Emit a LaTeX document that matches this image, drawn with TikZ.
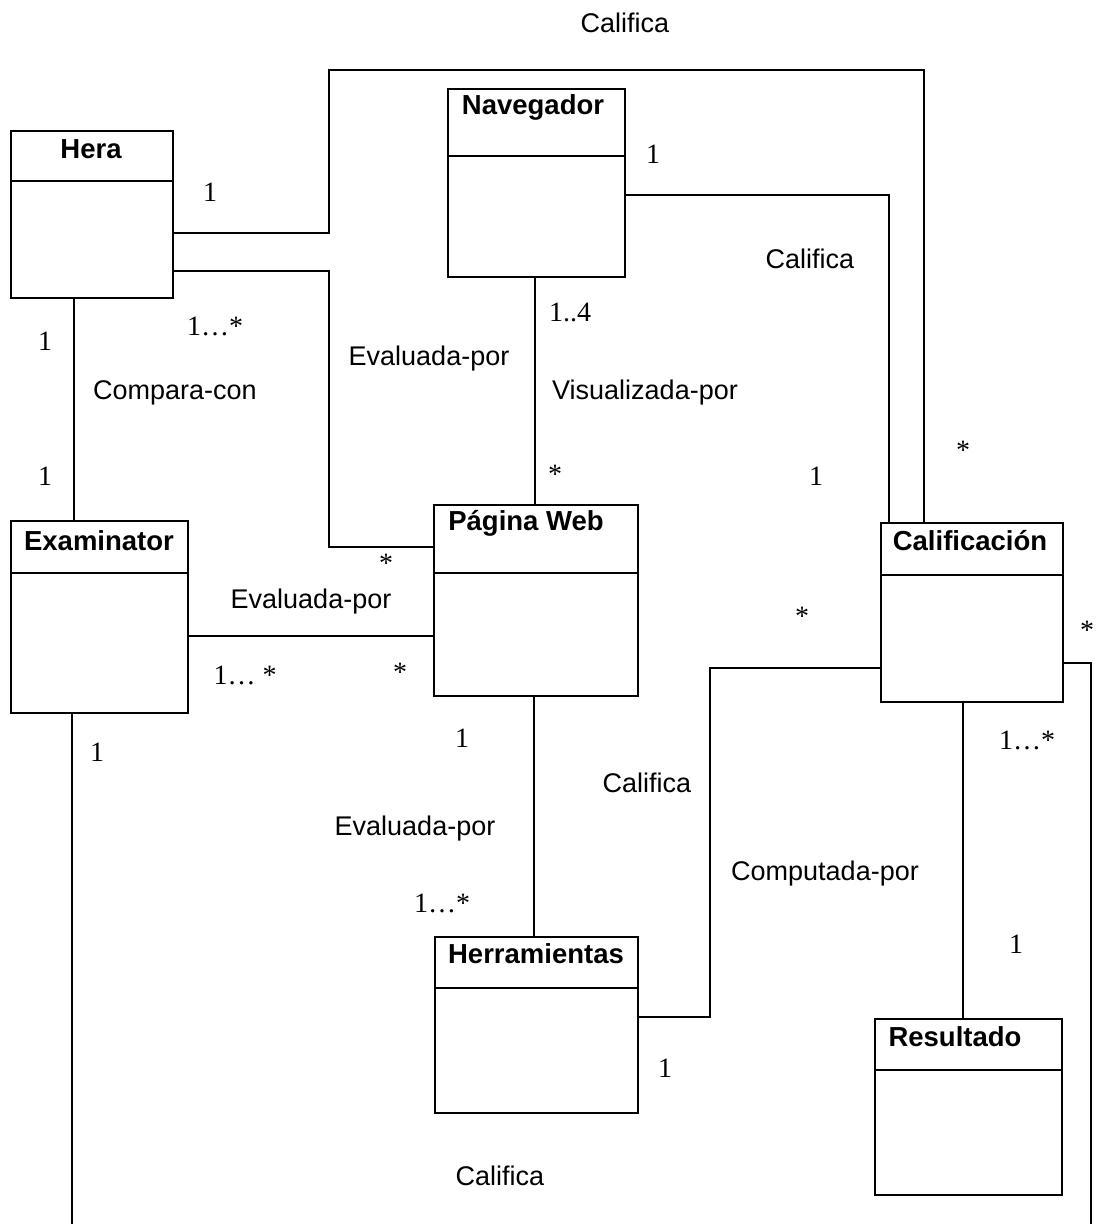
\documentclass[tikz,border=0pt]{standalone}
\usepackage{fontspec}
\setmainfont{Liberation Serif}
\setsansfont{Liberation Sans}
\begin{document}
\begin{tikzpicture}[x=1pt,y=-1pt,
  classbox/.style={draw,line width=1.8pt,rectangle,outer sep=0pt,inner sep=0pt},
  divider/.style={line width=1.8pt},
  title/.style={font=\sffamily\bfseries\fontsize{27.5}{32}\selectfont,inner sep=0pt},
  link/.style={line width=2.8pt},
  rolename/.style={font=\sffamily\fontsize{27}{32}\selectfont,inner sep=0pt},
  mult/.style={font=\rmfamily\fontsize{28}{32}\selectfont,inner sep=0pt}]
\useasboundingbox (0,0) rectangle (1099,1224);

% classes
\node[classbox,minimum width=162pt,minimum height=167pt] (hera) at (92,214.5) {};
\node[classbox,minimum width=177pt,minimum height=188pt] (nav) at (536.5,183) {};
\node[classbox,minimum width=204pt,minimum height=191pt] (web) at (536,600.5) {};
\node[classbox,minimum width=177pt,minimum height=192pt] (exam) at (99.5,617) {};
\node[classbox,minimum width=182pt,minimum height=179pt] (calif) at (972,612.5) {};
\node[classbox,minimum width=203pt,minimum height=176pt] (herr) at (536.5,1025) {};
\node[classbox,minimum width=187pt,minimum height=176pt] (res) at (968.5,1107) {};

% compartment separators
\draw[divider] (hera.west |- 0,181) -- (hera.east |- 0,181);
\draw[divider] (nav.west |- 0,156) -- (nav.east |- 0,156);
\draw[divider] (web.west |- 0,573) -- (web.east |- 0,573);
\draw[divider] (exam.west |- 0,573) -- (exam.east |- 0,573);
\draw[divider] (calif.west |- 0,575) -- (calif.east |- 0,575);
\draw[divider] (herr.west |- 0,988) -- (herr.east |- 0,988);
\draw[divider] (res.west |- 0,1070) -- (res.east |- 0,1070);

% class names
\node[title] (thera) at (91,149) {Hera};
\node[title] (tnav) at (533,107) {Navegador};
\node[title] (tweb) at (526,523) {Página Web};
\node[title] (texam) at (99,541) {Examinator};
\node[title] (tcalif) at (970,541) {Calificación};
\node[title] (therr) at (536,954) {Herramientas};
\node[title] (tres) at (955,1037) {Resultado};

% free ends leaving the drawing area
\coordinate (endL) at (72,1224);
\coordinate (endR) at (1091,1224);

% associations
\draw[link] (hera.east |- 0,233) -- (329,233) -- (329,70) -- (924,70) -- (calif.north -| 924,0);
\draw[link] (hera.east |- 0,271) -- (329,271) -- (329,547) -- (web.west |- 0,547);
\draw[link] (hera.south -| 74,0) -- (exam.north -| 74,0);
\draw[link] (nav.east |- 0,195) -- (889,195) -- (calif.north -| 889,0);
\draw[link] (nav.south -| 535,0) -- (web.north -| 535,0);
\draw[link] (exam.east |- 0,636) -- (web.west |- 0,636);
\draw[link] (web.south -| 534,0) -- (herr.north -| 534,0);
\draw[link] (herr.east |- 0,1017) -- (710,1017) -- (710,668) -- (calif.west |- 0,668);
\draw[link] (calif.south -| 963,0) -- (res.north -| 963,0);
\draw[link] (calif.east |- 0,663) -- (1091,663) -- (endR);
\draw[link] (exam.south -| 72,0) -- (endL);

% association names
\node[rolename] (r1) at (625,23) {Califica};
\node[rolename] (r2) at (810,259) {Califica};
\node[rolename] (r3) at (429,359) {Evaluada-por};
\node[rolename] (r4) at (175,393) {Compara-con};
\node[rolename] (r5) at (645,393) {Visualizada-por};
\node[rolename] (r6) at (311,602) {Evaluada-por};
\node[rolename] (r7) at (647,783) {Califica};
\node[rolename] (r8) at (415,829) {Evaluada-por};
\node[rolename] (r9) at (825,874) {Computada-por};
\node[rolename] (r10) at (500,1176) {Califica};

% multiplicities
\node[mult] (m1) at (210,192) {1};
\node[mult] (m2) at (653,154) {1};
\node[mult] (m3) at (570,312) {1..4};
\node[mult] (m4) at (215,326) {1…*};
\node[mult] (m5) at (45,341) {1};
\node[mult] (m6) at (963,450) {*};
\node[mult] (m7) at (45,476) {1};
\node[mult] (m8) at (555,474) {*};
\node[mult] (m9) at (816,476) {1};
\node[mult] (m10) at (386,563) {*};
\node[mult] (m11) at (802,616) {*};
\node[mult] (m12) at (1087,630) {*};
\node[mult] (m13) at (245,675) {1… *};
\node[mult] (m14) at (400,672) {*};
\node[mult] (m15) at (462,738) {1};
\node[mult] (m16) at (1027,740) {1…*};
\node[mult] (m17) at (97,752) {1};
\node[mult] (m18) at (442,903) {1…*};
\node[mult] (m19) at (1016,944) {1};
\node[mult] (m20) at (665,1068) {1};
\end{tikzpicture}
\end{document}
